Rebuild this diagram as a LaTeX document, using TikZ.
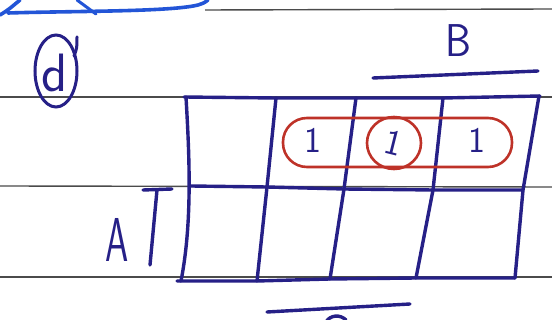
\documentclass[tikz,border=0pt]{standalone}
\usepackage{tikz}
\definecolor{ink}{RGB}{38,32,135}
\definecolor{brightink}{RGB}{35,85,215}
\definecolor{redink}{RGB}{190,50,40}
\definecolor{rule}{RGB}{75,75,75}
\tikzset{
  inkline/.style={draw=ink, line width=3.4pt, line cap=round, line join=round},
  redloop/.style={draw=redink, line width=2.6pt},
  ruled/.style={draw=rule, line width=1.4pt},
  handtext/.style={text=ink, inner sep=0pt, font=\sffamily},
}
\begin{document}
\begin{tikzpicture}[x=1pt,y=-1pt]
\useasboundingbox (0,0) rectangle (552,320);
\fill[white] (0,0) rectangle (552,320);
% notebook ruled lines
\draw[ruled] (205,10) -- (552,9);
\draw[ruled] (0,97) -- (552,97);
\draw[ruled] (0,186) -- (552,187);
\draw[ruled] (0,277) -- (552,277);
% top scribble from previous exercise
\draw[draw=brightink, line width=3.6pt, line cap=round] (0,15) .. controls (8,10) .. (20,0);
\draw[draw=brightink, line width=3.6pt, line cap=round] (8,13) .. controls (70,11) and (170,12) .. (198,5) .. controls (204,3) .. (208,0);
\draw[draw=brightink, line width=3pt, line cap=round] (77,0) -- (96,14);
% grid coordinates
\coordinate (t1) at (186,97);  \coordinate (t2) at (276,98); \coordinate (t3) at (356,98);
\coordinate (t4) at (443,98);  \coordinate (t5) at (539,96);
\coordinate (m1) at (191,186); \coordinate (m2) at (267,187); \coordinate (m3) at (344,189);
\coordinate (m4) at (433,190); \coordinate (m5) at (523,190);
\coordinate (b1) at (181,281); \coordinate (b2) at (257,281); \coordinate (b3) at (330,279);
\coordinate (b4) at (416,278); \coordinate (b5) at (515,278);
% horizontal grid lines
\draw[inkline] (184,97) -- (t2) -- (t3) -- (t4) -- (540,96);
\draw[inkline] (m1) -- (m2) -- (m3) -- (m4) -- (m5);
\draw[inkline] (177,281) -- (b2) -- (b3) -- (b4) -- (b5);
% vertical grid lines
\draw[inkline] (t1) .. controls (189,150) and (193,220) .. (b1);
\draw[inkline] (t2) -- (m2) -- (b2);
\draw[inkline] (t3) -- (m3) -- (b3);
\draw[inkline] (t4) -- (m4) -- (b4);
\draw[inkline] (t5) -- (m5) -- (b5);
% variable bars
\coordinate (bb1) at (373,78); \coordinate (bb2) at (538,71);
\draw[inkline] (bb1) -- (bb2);
\coordinate (ab0) at (143,190); \coordinate (ab1) at (172,189);
\coordinate (ab2) at (157,190); \coordinate (ab3) at (150,265);
\draw[inkline] (ab0) -- (ab1);
\draw[inkline] (ab2) -- (ab3);
\coordinate (cb1) at (267,312); \coordinate (cb2) at (410,304);
\draw[inkline] (cb1) -- (cb2);
\draw[inkline] (326,322) .. controls (330,315) and (340,314) .. (346,320);
% labels
\node[handtext, font=\sffamily\fontsize{46}{46}\selectfont, xscale=0.9] (B) at (458,41) {B};
\node[handtext, font=\sffamily\fontsize{62}{62}\selectfont, xscale=0.6] (A) at (117,240) {A};
\node[handtext, font=\sffamily\fontsize{54}{54}\selectfont] (d) at (55,73) {d};
\draw[draw=ink, line width=3pt] (56,71) ellipse [x radius=21, y radius=36];
\draw[draw=ink, line width=3pt, line cap=round] (74,56) .. controls (77,48) .. (77,37);
% cells with 1
\node[handtext, font=\sffamily\fontsize{36}{36}\selectfont] (c1) at (313,140) {1};
\node[handtext, font=\sffamily\fontsize{36}{36}\selectfont, rotate=-14] (c2) at (394,143) {1};
\node[handtext, font=\sffamily\fontsize{36}{36}\selectfont] (c3) at (477,140) {1};
% red groupings
\draw[redloop, rounded corners=24pt] (283,118) rectangle (512,167);
\draw[redloop] (c2.center) ellipse [x radius=27, y radius=26];
\end{tikzpicture}
\end{document}
